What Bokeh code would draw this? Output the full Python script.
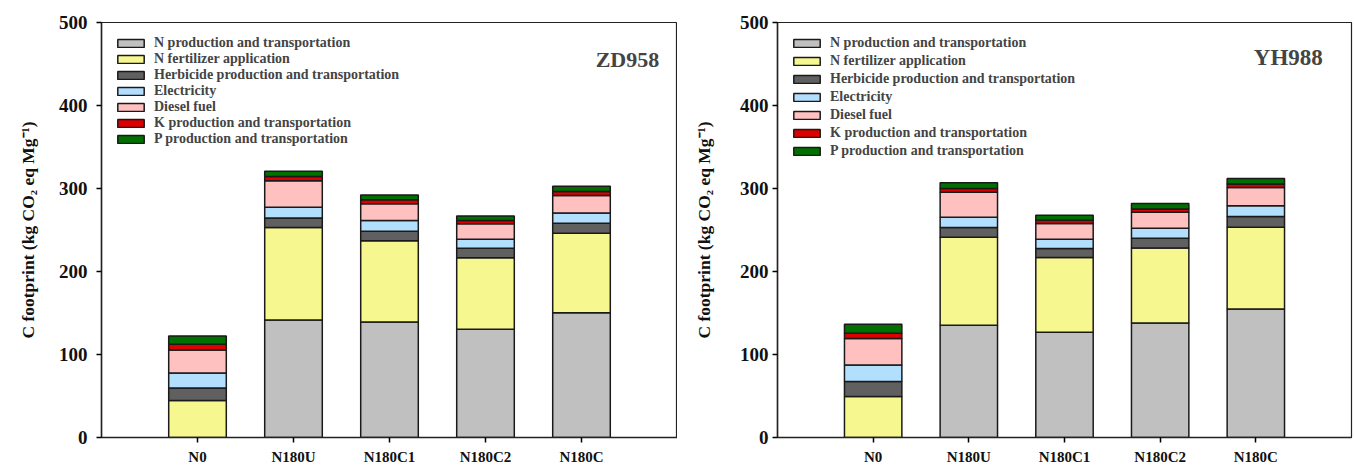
from bokeh.plotting import figure
from bokeh.layouts import row
from bokeh.models import ColumnDataSource, FactorRange, Label, Legend, FixedTicker
from bokeh.embed import file_html
from bokeh.resources import INLINE

# ---------------- data ----------------
treatments = ["N0", "N180U", "N180C1", "N180C2", "N180C"]
components = [
    "N production and transportation",
    "N fertilizer application",
    "Herbicide production and transportation",
    "Electricity",
    "Diesel fuel",
    "K production and transportation",
    "P production and transportation",
]
colors = ["#C0C0C0", "#F7F78F", "#606060", "#B3DFFF", "#FFC0C0", "#DD0000", "#007000"]

# ZD958
zd_n_prod = [0.0, 141.6, 139.2, 130.4, 150.4]
zd_n_fert = [44.6, 111.3, 97.7, 86.3, 95.7]
zd_herb = [15.1, 11.7, 11.6, 11.3, 12.1]
zd_elec = [18.1, 12.9, 12.9, 10.9, 12.4]
zd_diesel = [27.7, 31.7, 20.1, 18.5, 20.9]
zd_k = [7.0, 5.2, 4.8, 4.0, 4.8]
zd_p = [9.8, 6.5, 6.0, 5.6, 6.5]

# YH988
yh_n_prod = [0.0, 135.3, 126.9, 138.1, 154.9]
yh_n_fert = [49.4, 106.0, 90.0, 90.3, 98.5]
yh_herb = [18.1, 11.7, 10.8, 11.7, 12.9]
yh_elec = [20.0, 12.4, 11.2, 12.1, 12.8]
yh_diesel = [31.8, 30.1, 18.9, 19.2, 22.1]
yh_k = [6.4, 4.5, 4.0, 4.0, 4.3]
yh_p = [10.8, 6.8, 6.0, 6.5, 6.5]

y_ticks = [0, 100, 200, 300, 400, 500]
y_label = "C footprint (kg CO\u2082 eq Mg\u207b\u00b9)"

FONT = "Liberation Serif"


def make_panel(name, series, frame_w, b_left, b_right, b_top, b_bottom,
               legend_spacing, title_x, title_y, title_size,
               ytick_standoff, ylabel_standoff):
    data = {"treatment": treatments}
    keys = [f"s{i}" for i in range(len(components))]
    for k, s in zip(keys, series):
        data[k] = s
    src = ColumnDataSource(data)

    p = figure(
        x_range=FactorRange(factors=treatments, range_padding=0.2, range_padding_units="percent"),
        y_range=(0, 500),
        frame_width=frame_w, frame_height=415,
        output_backend="svg", toolbar_location=None,
        min_border_left=b_left, min_border_right=b_right,
        min_border_top=b_top, min_border_bottom=b_bottom,
    )
    renderers = p.vbar_stack(keys, x="treatment", width=0.6, color=colors,
                             line_color="#1a1a1a", line_width=1.5, source=src)

    items = [(c, [r]) for c, r in zip(components, renderers)]
    leg = Legend(items=items, location="top_left")
    leg.margin = 5
    leg.padding = 8
    leg.border_line_alpha = 0
    leg.background_fill_alpha = 0
    leg.glyph_width = 33
    leg.glyph_height = 10
    leg.label_height = 12
    leg.spacing = legend_spacing
    leg.label_standoff = 7
    leg.label_text_font = FONT
    leg.label_text_font_style = "bold"
    leg.label_text_font_size = "14px"
    leg.label_text_baseline = "middle"
    p.add_layout(leg)

    p.add_layout(Label(x=title_x, y=title_y, text=name, text_align="right",
                       text_baseline="middle", text_font=FONT, text_font_style="bold",
                       text_font_size=title_size))

    p.xgrid.visible = False
    p.ygrid.visible = False
    p.outline_line_color = "#222222"
    p.outline_line_width = 1.2
    p.background_fill_color = "white"
    p.border_fill_color = "white"

    xa = p.xaxis[0]
    xa.axis_line_width = 1.5
    xa.axis_line_color = "#222222"
    xa.major_tick_in = 0
    xa.major_tick_out = 5
    xa.major_tick_line_width = 1.5
    xa.minor_tick_line_color = None
    xa.major_label_standoff = 6
    xa.major_label_text_font = FONT
    xa.major_label_text_font_style = "bold"
    xa.major_label_text_font_size = "15px"
    xa.major_label_text_color = "#111111"

    ya = p.yaxis[0]
    ya.ticker = FixedTicker(ticks=y_ticks)
    ya.axis_line_width = 1.5
    ya.axis_line_color = "#222222"
    ya.major_tick_in = 0
    ya.major_tick_out = 5
    ya.major_tick_line_width = 1.5
    ya.minor_tick_line_color = None
    ya.major_label_standoff = ytick_standoff
    ya.major_label_text_font = FONT
    ya.major_label_text_font_style = "bold"
    ya.major_label_text_font_size = "19px"
    ya.major_label_text_color = "#111111"
    ya.axis_label = y_label
    ya.axis_label_text_font = FONT
    ya.axis_label_text_font_style = "bold"
    ya.axis_label_text_font_size = "17.5px"
    ya.axis_label_text_color = "#111111"
    ya.axis_label_standoff = ylabel_standoff
    return p


p1 = make_panel("ZD958",
                [zd_n_prod, zd_n_fert, zd_herb, zd_elec, zd_diesel, zd_k, zd_p],
                frame_w=576, b_left=101, b_right=0, b_top=22, b_bottom=28,
                legend_spacing=0, title_x=5.31, title_y=455, title_size="22px",
                ytick_standoff=9, ylabel_standoff=18)
p2 = make_panel("YH988",
                [yh_n_prod, yh_n_fert, yh_herb, yh_elec, yh_diesel, yh_k, yh_p],
                frame_w=574, b_left=100, b_right=2, b_top=19, b_bottom=31,
                legend_spacing=2, title_x=5.2, title_y=458, title_size="23px",
                ytick_standoff=4, ylabel_standoff=23)

layout = row(p1, p2)
with open("out.html", "w") as f:
    f.write(file_html(layout, INLINE))
